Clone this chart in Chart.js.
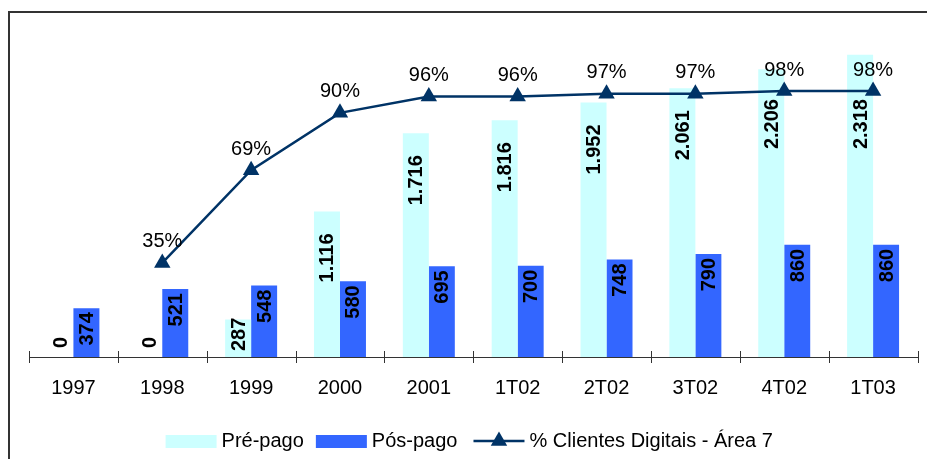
<!DOCTYPE html>
<html>
<head>
<meta charset="utf-8">
<script src="https://cdn.jsdelivr.net/npm/chart.js@4"></script>
<style>
  body { margin: 0; background: #fff; }
  #wrap { width: 927px; height: 459px; }
</style>
</head>
<body>
<div id="wrap"><canvas id="grafico"></canvas></div>
<script>
const categorias = ["1997", "1998", "1999", "2000", "2001", "1T02", "2T02", "3T02", "4T02", "1T03"];
const prePago = [0, 0, 287, 1116, 1716, 1816, 1952, 2061, 2206, 2318];
const posPago = [374, 521, 548, 580, 695, 700, 748, 790, 860, 860];
const digitais = [null, 35, 69, 90, 96, 96, 97, 97, 98, 98];

const fonte = "'Liberation Sans', Arial, sans-serif";

function milhar(v) {
    return String(v).replace(/\B(?=(\d{3})+(?!\d))/g, ".");
}

// moldura em volta do grafico
const moldura = {
    id: 'moldura',
    beforeDraw(chart) {
        let c = chart.ctx;
        c.save();
        c.strokeStyle = "#333";
        c.lineWidth = 2;
        c.strokeRect(9, 12, chart.width + 10, chart.height + 10);
        c.restore();
    }
};

// tracinhos do eixo x, acima e abaixo da linha
const marcas = {
    id: 'marcas',
    afterDraw(chart) {
        let x = chart.scales.x;
        let c = chart.ctx;
        let n = x.ticks.length;
        c.save();
        c.strokeStyle = "#333";
        c.lineWidth = 1;
        for (let i = 0; i <= n; i++) {
            let px = Math.round(x.left + i * x.width / n) + 0.5;
            c.beginPath();
            c.moveTo(px, x.top - 6);
            c.lineTo(px, x.top + 6);
            c.stroke();
        }
        c.restore();
    }
};

// rotulos das barras (verticais) e da linha
const rotulos = {
    id: 'rotulos',
    afterDatasetsDraw(chart) {
        let c = chart.ctx;
        let base = chart.scales.x.top;
        let linha = chart.getDatasetMeta(2).data;
        c.save();
        c.fillStyle = "#000";
        c.font = "bold 20px " + fonte;
        [0, 1].forEach(d => {
            chart.getDatasetMeta(d).data.forEach((bar, i) => {
                let v = chart.data.datasets[d].data[i];
                let txt = milhar(v);
                let w = c.measureText(txt).width;
                let topo;
                if (v === 0) {
                    topo = base - 9 - w;
                } else if (d === 0) {
                    topo = Math.min(bar.y + 22, base - w - 6);
                    if (digitais[i] != null) topo = Math.max(topo, linha[i].y + 8);
                } else {
                    topo = bar.y + 4;
                }
                c.save();
                c.translate(bar.x + 1, topo);
                c.rotate(-Math.PI / 2);
                c.textAlign = "right";
                c.textBaseline = "middle";
                c.fillText(txt, 0, 0);
                c.restore();
            });
        });
        c.font = "20px " + fonte;
        c.textAlign = "center";
        c.textBaseline = "middle";
        linha.forEach((p, i) => {
            if (digitais[i] == null) return;
            c.fillText(digitais[i] + "%", p.x, p.y - 21);
        });
        c.restore();
    }
};

function triangulo(c, x, y, r) {
    c.beginPath();
    for (let k = 0; k < 3; k++) {
        let a = k * 2 * Math.PI / 3;
        let px = x + Math.sin(a) * r, py = y - Math.cos(a) * r;
        if (k === 0) c.moveTo(px, py); else c.lineTo(px, py);
    }
    c.closePath();
    c.fill();
}

// legenda desenhada a mao
const legenda = {
    id: 'legenda',
    afterDraw(chart) {
        let c = chart.ctx;
        let area = chart.chartArea;
        c.save();
        c.font = "20px " + fonte;
        c.textBaseline = "middle";
        let amostra = 51, gap = 5, seps = [12, 16, 0];
        let itens = chart.data.datasets.map(ds => ({ ds: ds, w: c.measureText(ds.label).width }));
        let total = 0;
        itens.forEach((it, k) => total += amostra + gap + it.w + seps[k]);
        let x = (area.left + area.right) / 2 - total / 2 - 4;
        let y = chart.height - 18;
        itens.forEach((it, k) => {
            let ds = it.ds;
            if (ds.type === 'line') {
                c.strokeStyle = ds.borderColor;
                c.lineWidth = ds.borderWidth;
                c.beginPath();
                c.moveTo(x, y);
                c.lineTo(x + amostra, y);
                c.stroke();
                c.fillStyle = ds.borderColor;
                triangulo(c, x + amostra / 2, y, ds.pointRadius);
            } else {
                c.fillStyle = ds.backgroundColor;
                c.fillRect(x, y - 6, amostra, 13);
            }
            c.fillStyle = "#000";
            c.fillText(ds.label, x + amostra + gap, y);
            x += amostra + gap + it.w + seps[k];
        });
        c.restore();
    }
};

let ctx = document.getElementById("grafico").getContext("2d");

let grafico = new Chart(ctx, {
    data: {
        labels: categorias,
        datasets: [{
            type: "bar",
            label: "Pré-pago",
            data: prePago,
            backgroundColor: "#CCFFFF",
            yAxisID: "y",
            order: 1,
            categoryPercentage: 0.585,
            barPercentage: 1
        }, {
            type: "bar",
            label: "Pós-pago",
            data: posPago,
            backgroundColor: "#3366FF",
            yAxisID: "y",
            order: 1,
            categoryPercentage: 0.585,
            barPercentage: 1
        }, {
            type: "line",
            label: "% Clientes Digitais - Área 7",
            data: digitais,
            yAxisID: "y2",
            borderColor: "#003366",
            backgroundColor: "#003366",
            borderWidth: 2.5,
            pointStyle: "triangle",
            pointRadius: 9.5,
            pointBorderWidth: 0,
            tension: 0,
            order: 0
        }]
    },
    options: {
        responsive: true,
        maintainAspectRatio: false,
        animation: false,
        layout: { padding: { left: 29, right: 8, top: 31, bottom: 0 } },
        plugins: {
            legend: { display: false },
            tooltip: { enabled: false }
        },
        scales: {
            x: {
                grid: { display: false },
                border: { display: true, color: "#333", width: 1 },
                ticks: { color: "#000", font: { family: fonte, size: 20 }, padding: 11 },
                afterFit(s) { s.height = 102; }
            },
            y: { display: false, min: 0, max: 2500 },
            y2: { display: false, min: 0.5, max: 120, position: "right" }
        }
    },
    plugins: [moldura, marcas, rotulos, legenda]
});
</script>
</body>
</html>
